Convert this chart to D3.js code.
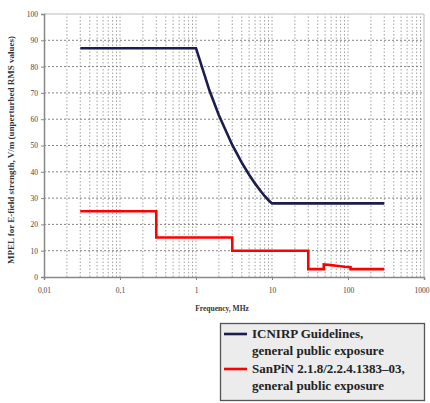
<!DOCTYPE html>
<html><head><meta charset="utf-8">
<script src="https://cdn.jsdelivr.net/npm/d3@7"></script>
<style>body{margin:0;background:#fff}svg{display:block}</style>
</head><body><svg id="c" width="430" height="403"></svg>
<script>
const xTickValues=[0.01,0.1,1,10,100,1000];
const xTickLabels=["0,01","0,1","1","10","100","1000"];
const yTickValues=[0,10,20,30,40,50,60,70,80,90,100];
const seriesNames=["ICNIRP Guidelines,|general public exposure","SanPiN 2.1.8/2.2.4.1383–03,|general public exposure"];
const icnirpF=[0.03,1,1.5,2,3,4,5,6,7,8,9,10,300];
const icnirpV=[87,87,71,61.5,50.2,43.5,38.9,35.5,32.9,30.8,29.2,28,28];
const sanpinF=[0.03,0.3,0.3,3,3,30,30,48,48,60,70,80,90,108,108,300];
const sanpinV=[25,25,15,15,10,10,3,3,4.8,4.5,4.3,4.1,3.9,3.7,3,3];
const colors=["#1c1c4e","#ff0000"];

const svg=d3.select("#c");
const x=d3.scaleLog().domain([0.01,1000]).range([44,424]);
const y=d3.scaleLinear().domain([0,100]).range([277,14]);
const font="'Liberation Serif','Times New Roman',serif";

// minor vertical grid
const minor=[];
for(let d=0.01;d<1000;d*=10){for(let k=1;k<=9;k++){const v=+(d*k).toPrecision(3);if(v>0.01&&v<1000)minor.push(v);}}
svg.append("g").selectAll("line").data(minor).join("line")
 .attr("x1",d=>x(d)).attr("x2",d=>x(d)).attr("y1",y(0)).attr("y2",y(100))
 .attr("stroke","#8a8a8a").attr("stroke-width",0.8).attr("stroke-dasharray","1.5,2");
// horizontal grid
svg.append("g").selectAll("line").data(yTickValues.filter(v=>v>0&&v<100)).join("line")
 .attr("x1",x(0.01)).attr("x2",x(1000)).attr("y1",d=>y(d)).attr("y2",d=>y(d))
 .attr("stroke","#777").attr("stroke-width",0.9).attr("stroke-dasharray","2,2");
// frame
svg.append("line").attr("x1",x(0.01)).attr("x2",x(1000)).attr("y1",y(100)).attr("y2",y(100)).attr("stroke","#bbb");
svg.append("line").attr("x1",x(1000)).attr("x2",x(1000)).attr("y1",y(100)).attr("y2",y(0)).attr("stroke","#bbb");

// axes
const xAxis=d3.axisBottom(x).tickValues(xTickValues).tickFormat((d,i)=>xTickLabels[i]).tickSize(3).tickPadding(8);
const gx=svg.append("g").attr("transform",`translate(0,${y(0)})`).call(xAxis);
const yAxis=d3.axisLeft(y).tickValues(yTickValues).tickSize(3).tickPadding(3);
const gy=svg.append("g").attr("transform",`translate(${x(0.01)},0)`).call(yAxis);
[gx,gy].forEach(g=>{g.select(".domain").attr("stroke","#888").attr("stroke-width",1.5);
 g.selectAll(".tick line").attr("stroke","#888");
 g.selectAll("text").attr("font-family",font).attr("font-size",7.5).attr("fill","#444");});
gx.selectAll(".tick text").filter(d=>d===1000).attr("text-anchor","end").attr("dx",5);

// titles
svg.append("text").attr("x",222).attr("y",311).attr("text-anchor","middle").attr("font-family",font)
 .attr("font-size",7.5).attr("font-weight","bold").attr("fill","#333").text("Frequency, MHz");
svg.append("text").attr("transform","translate(14,150) rotate(-90)").attr("text-anchor","middle").attr("font-family",font)
 .attr("font-size",9).attr("font-weight","bold").attr("fill","#333").text("MPEL for E-field strength, V/m (unperturbed RMS values)");

// series
const line=d3.line().x(d=>x(d[0])).y(d=>y(d[1]));
const data=[icnirpF.map((f,i)=>[f,icnirpV[i]]),sanpinF.map((f,i)=>[f,sanpinV[i]])];
svg.append("g").selectAll("path").data(data).join("path").attr("d",line).attr("fill","none")
 .attr("stroke",(d,i)=>colors[i]).attr("stroke-width",2.6).attr("stroke-linejoin","miter");

// legend
const lg=svg.append("g");
lg.append("rect").attr("x",220.5).attr("y",323.5).attr("width",204).attr("height",77).attr("fill","#ececec").attr("stroke","#555").attr("stroke-width",1.3);
seriesNames.forEach((n,i)=>{
 const by=338+i*35;
 lg.append("line").attr("x1",224).attr("x2",247).attr("y1",by-4).attr("y2",by-4).attr("stroke",colors[i]).attr("stroke-width",2.6);
 n.split("|").forEach((t,j)=>lg.append("text").attr("x",252).attr("y",by+j*17).attr("font-family",font)
  .attr("font-size",13).attr("font-weight","bold").attr("fill","#222").text(t));
});
</script></body></html>
